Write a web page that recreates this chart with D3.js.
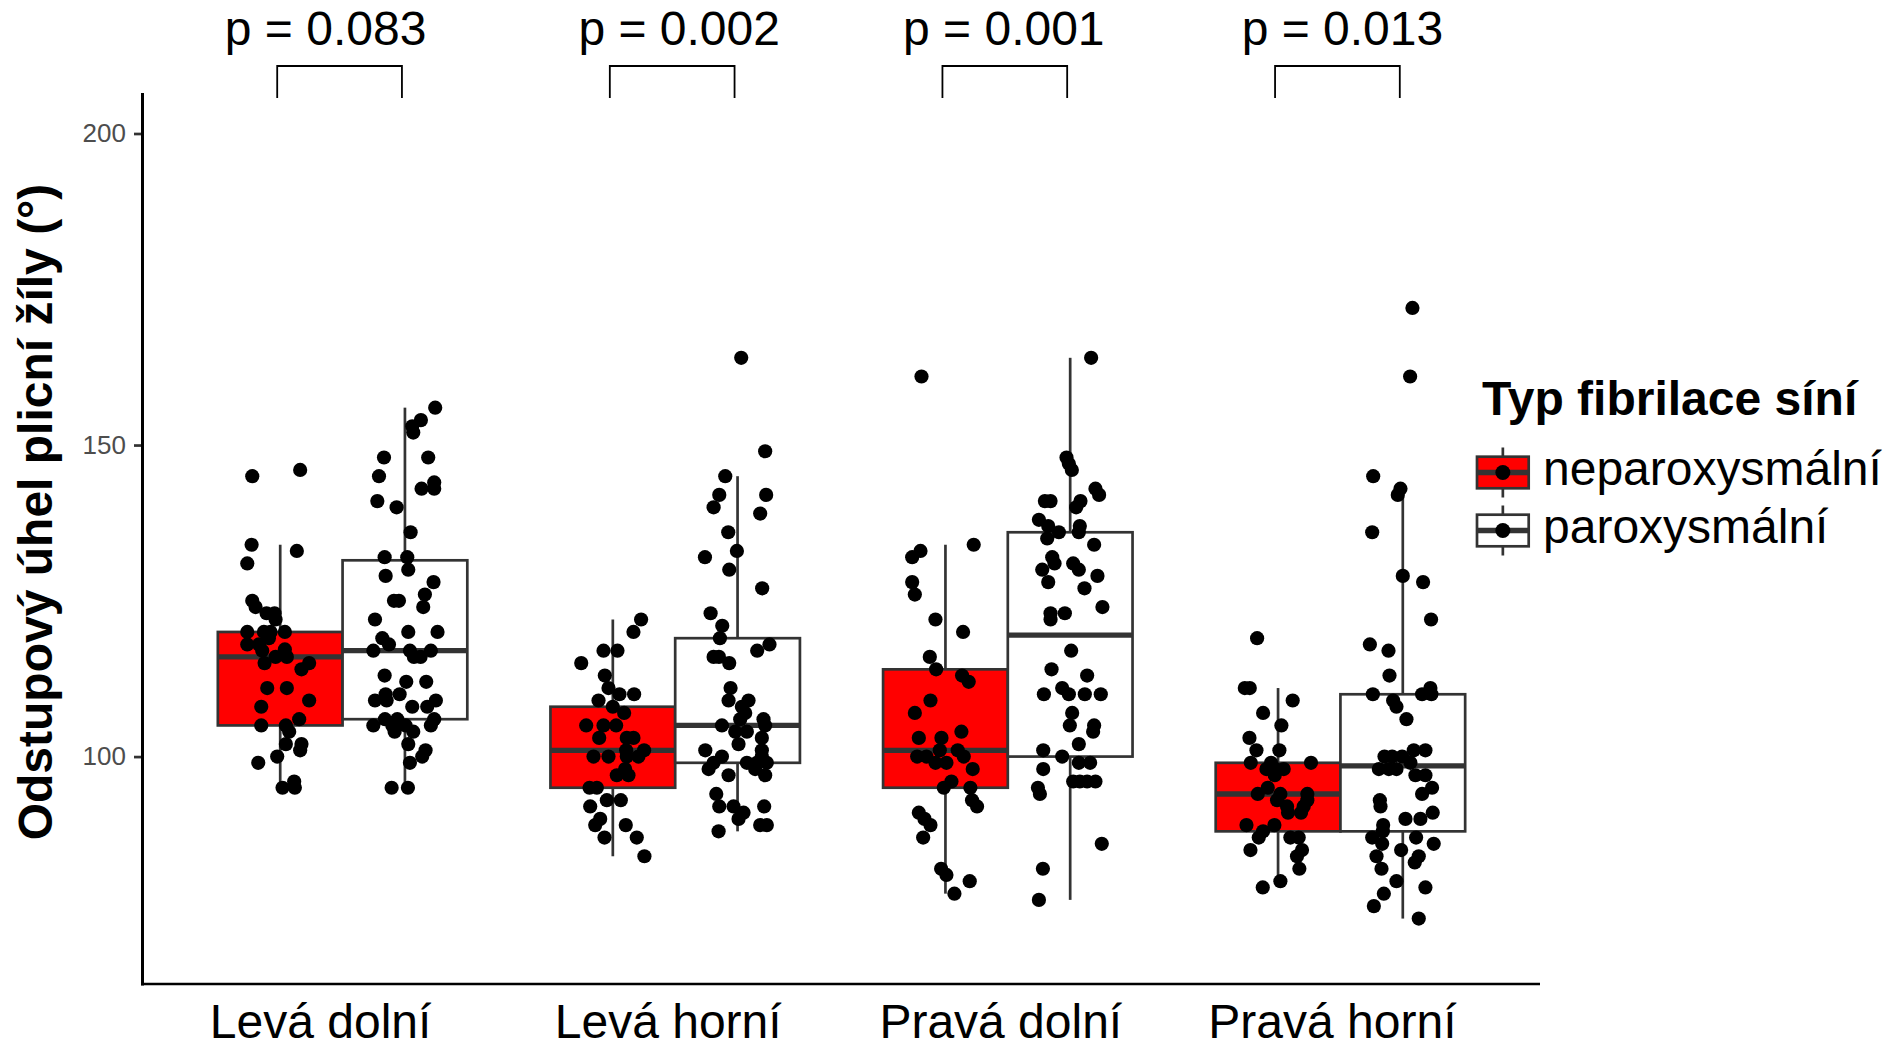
<!DOCTYPE html>
<html>
<head>
<meta charset="utf-8">
<script src="https://cdn.jsdelivr.net/npm/d3@7/dist/d3.min.js"></script>
<style>
  html, body { margin: 0; padding: 0; background: #ffffff; }
  svg { display: block; }
  text { font-family: "Liberation Sans", Arial, Helvetica, sans-serif; }
</style>
</head>
<body>
<svg id="chart" width="1887" height="1048"></svg>
<script>
// ---------------- DATA ----------------
const categories = ["Levá dolní", "Levá horní", "Pravá dolní", "Pravá horní"];
const groupNames = ["neparoxysmální", "paroxysmální"];
const pValues = ["p = 0.083", "p = 0.002", "p = 0.001", "p = 0.013"];
const yTicks = [100, 150, 200];
const yTitle = "Odstupový úhel plicní žíly (°)";
const legendTitle = "Typ fibrilace síní";

// box statistics: [lower whisker, Q1, median, Q3, upper whisker]
const nepStats = [[95, 105, 116, 120, 134], [84, 95, 101, 108, 122], [78, 95, 101, 114, 134], [80, 88, 94, 99, 111]];
const parStats = [[95, 106, 117, 131.5, 156], [88, 99, 105, 119, 145], [77, 100, 119.5, 136, 164], [74, 88, 98.5, 110, 142]];

// jittered observations: [value, horizontal jitter in category units]
const LD_nep = [[145,-0.084],[146,0.060],[134,-0.086],[133,0.050],[131,-0.099],[125,-0.084],[124,-0.074],[123,-0.041],[123,-0.017],[122,-0.014],[120,-0.099],[120,-0.049],[120,-0.029],[120,0.014],[119,-0.034],[118,-0.099],[118,-0.064],[117,-0.054],[117.2,0.014],[116,-0.014],[116,0.020],[115,-0.047],[115,0.087],[114,0.064],[111,-0.039],[111,0.020],[109,0.087],[108,-0.057],[106,0.057],[105,-0.057],[105,0.017],[104,0.027],[102,0.017],[102,0.064],[101,0.060],[100,-0.009],[99,-0.066],[96,0.042],[95,0.007],[95,0.044]];
const LD_par = [[156,0.091],[154,0.048],[153,0.022],[152,0.025],[148,-0.063],[148,0.070],[145,-0.078],[144,0.088],[143,0.050],[143,0.088],[141,-0.083],[140,-0.025],[136,0.017],[132,-0.061],[132,0.007],[130,0.010],[129,-0.058],[128,0.086],[126,0.060],[125,-0.033],[125,-0.018],[124,0.055],[122,-0.090],[120,0.010],[120,0.098],[119,-0.068],[118,-0.048],[117,-0.095],[117,0.015],[117,0.078],[116,0.027],[116,0.047],[113,-0.061],[112,0.004],[112,0.064],[110,-0.058],[110,-0.016],[109,-0.090],[109,-0.055],[109,0.093],[108,0.022],[108,0.067],[106,-0.060],[106,-0.023],[106,0.088],[105,-0.095],[105,-0.038],[105,0.002],[105,0.078],[104,-0.031],[104,0.025],[102,0.010],[101,0.062],[100,0.052],[99,0.015],[95,-0.040],[95,0.009]];
const LH_nep = [[122,0.085],[120,0.062],[117,-0.028],[117,0.014],[115,-0.095],[113,-0.024],[111,-0.013],[110,0.020],[110,0.064],[109,-0.043],[108,0.000],[107,0.034],[105,-0.080],[105,-0.028],[105,0.010],[103,-0.041],[103,0.042],[103,0.062],[101,0.040],[101,0.094],[100,-0.058],[100,-0.013],[100,0.042],[100,0.077],[98,0.037],[97,0.012],[97,0.047],[95,-0.070],[95,-0.048],[93,-0.018],[93,0.024],[92,-0.068],[90,-0.038],[89,-0.053],[89,0.039],[87,-0.025],[87,0.072],[84,0.095]];
const LH_par = [[164,0.011],[149,0.083],[145,-0.037],[142,-0.055],[142,0.086],[140,-0.072],[139,0.068],[136,-0.028],[133,-0.002],[132,-0.098],[130,-0.025],[127,0.074],[123,-0.081],[121,-0.046],[119,-0.053],[118,0.096],[117,0.059],[116,-0.072],[116,-0.056],[115,-0.025],[111,-0.021],[109,-0.027],[109,0.033],[108,0.013],[107,0.023],[106,0.008],[106,0.078],[105,-0.047],[105,0.083],[104,-0.007],[104,0.028],[102,0.003],[103,0.073],[101,0.073],[101,-0.097],[100,-0.047],[100,0.073],[99,-0.072],[99,0.028],[99,0.058],[99,0.088],[98,-0.087],[98,0.053],[97,-0.027],[97,0.083],[94,-0.064],[92,-0.055],[92,-0.012],[92,0.080],[91,0.018],[90,0.003],[89,0.068],[89,0.088],[88,-0.057]];
const PD_nep = [[161,-0.072],[134,0.085],[133,-0.075],[132,-0.100],[128,-0.100],[126,-0.092],[122,-0.030],[120,0.053],[116,-0.047],[114,-0.028],[113,0.050],[112,0.070],[109,-0.045],[107,-0.092],[103,-0.080],[103,-0.012],[104,0.048],[101,-0.017],[100,-0.085],[100,-0.057],[101,0.037],[100,0.055],[99,-0.030],[99,0.003],[98,0.082],[96,0.018],[95,-0.005],[95,0.075],[93,0.080],[92,0.095],[91,-0.080],[90,-0.063],[89,-0.045],[87,-0.067],[82,-0.013],[81,0.003],[80,0.073],[78,0.027]];
const PD_par = [[164,0.063],[148,-0.011],[147,-0.004],[146,0.005],[143,0.076],[142,0.087],[141,-0.076],[141,-0.059],[141,0.031],[140,0.018],[138,-0.094],[137,-0.066],[137,0.029],[136,-0.034],[136,0.026],[135,-0.069],[134,0.072],[132,-0.054],[131,-0.047],[131,0.009],[130,-0.084],[130,0.026],[129,0.082],[128,-0.066],[127,0.043],[124,0.097],[123,-0.059],[123,-0.016],[122,-0.059],[117,0.003],[114,-0.056],[113,0.051],[110,-0.079],[111,-0.024],[110,-0.004],[110,0.044],[110,0.092],[107,0.006],[105,-0.001],[105,0.072],[104,0.069],[102,0.026],[101,-0.081],[100,-0.024],[99,0.026],[99,0.060],[98,-0.081],[96,0.009],[96,0.029],[96,0.051],[96,0.076],[95,-0.097],[94,-0.091],[86,0.095],[82,-0.082],[77,-0.094]];
const PH_nep = [[119,-0.063],[111,-0.100],[111,-0.085],[109,0.044],[107,-0.045],[105,0.010],[103,-0.086],[101,-0.065],[101,0.004],[99,-0.082],[99,-0.021],[99,0.099],[98,-0.035],[98,-0.008],[98,0.017],[97,-0.010],[95,-0.031],[94,-0.061],[94,0.007],[94,0.088],[93,-0.003],[92,0.027],[93,0.088],[92,0.077],[91,0.030],[91,0.069],[89,-0.095],[89,-0.011],[88,-0.045],[87,-0.058],[87,0.037],[87,0.062],[85,-0.083],[85,0.072],[84,0.057],[82,0.064],[80,0.007],[79,-0.046]];
const PH_par = [[172,0.029],[161,0.022],[145,-0.089],[143,-0.007],[142,-0.015],[136,-0.092],[129,0.000],[128,0.061],[122,0.085],[118,-0.099],[117,-0.043],[113,-0.040],[110,-0.090],[110,0.058],[111,0.083],[110,0.086],[109,-0.029],[108,-0.019],[106,0.011],[101,0.033],[101,0.068],[100,-0.055],[100,-0.032],[100,-0.002],[99,0.023],[98,-0.072],[98,-0.042],[98,-0.019],[97,0.038],[97,0.068],[95,0.088],[94,0.058],[93,-0.069],[92,-0.067],[91,0.090],[90,0.008],[90,0.053],[89,-0.059],[88,-0.060],[87,-0.092],[86,-0.062],[87,0.040],[86,0.093],[85,-0.005],[84,-0.079],[84,0.048],[83,0.036],[82,-0.064],[80,-0.019],[79,0.068],[78,-0.057],[76,-0.087],[74,0.048]];

// ---------------- LAYOUT ----------------
const W = 1887, H = 1048;
const panel = { left: 143, right: 1540, top: 93, bottom: 984 };
const FS = 48;
const boxLine = "#333333";
const pLabelNudge = [-17, 4, -4, 2];
const xLabelNudge = [-22, -7, -7, -8];

const groups = [
  { name: groupNames[0], fill: "#FF0000", dodge: -0.1875, stats: nepStats, pts: [LD_nep, LH_nep, PD_nep, PH_nep] },
  { name: groupNames[1], fill: "#FFFFFF", dodge: 0.1875, stats: parStats, pts: [LD_par, LH_par, PD_par, PH_par] }
];

const svg = d3.select("#chart");
svg.append("rect").attr("width", W).attr("height", H).attr("fill", "#ffffff");

const x = d3.scalePoint().domain(categories).range([panel.left, panel.right]).padding(0.6);
const step = x.step();
const y = d3.scaleLinear().domain([63.5, 206.5]).range([panel.bottom, panel.top]);
const boxW = 0.375 * step;

// ---- boxes ----
const gBoxes = svg.append("g");
groups.forEach(g => {
  categories.forEach((c, i) => {
    const [lo, q1, med, q3, hi] = g.stats[i];
    const cx = x(c) + g.dodge * step;
    const bg = gBoxes.append("g");
    bg.append("line").attr("x1", cx).attr("x2", cx).attr("y1", y(hi)).attr("y2", y(q3))
      .attr("stroke", boxLine).attr("stroke-width", 2.7);
    bg.append("line").attr("x1", cx).attr("x2", cx).attr("y1", y(q1)).attr("y2", y(lo))
      .attr("stroke", boxLine).attr("stroke-width", 2.7);
    bg.append("rect").attr("x", cx - boxW / 2).attr("width", boxW)
      .attr("y", y(q3)).attr("height", y(q1) - y(q3))
      .attr("fill", g.fill).attr("stroke", boxLine).attr("stroke-width", 2.7);
    bg.append("line").attr("x1", cx - boxW / 2).attr("x2", cx + boxW / 2)
      .attr("y1", y(med)).attr("y2", y(med))
      .attr("stroke", boxLine).attr("stroke-width", 5.4);
  });
});

// ---- jittered points ----
const gPts = svg.append("g");
groups.forEach(g => {
  categories.forEach((c, i) => {
    const cx = x(c) + g.dodge * step;
    gPts.selectAll(null).data(g.pts[i]).enter().append("circle")
      .attr("cx", d => cx + d[1] * step)
      .attr("cy", d => y(d[0]))
      .attr("r", 7.1)
      .attr("fill", "#000000");
  });
});

// ---- axes ----
const yAxis = d3.axisLeft(y).tickValues(yTicks).tickSize(7).tickPadding(8);
const gy = svg.append("g").attr("transform", `translate(${panel.left - 2},0)`).call(yAxis);
gy.select(".domain").remove();
gy.selectAll(".tick line").attr("stroke", "#333333").attr("stroke-width", 2.7);
gy.selectAll(".tick text").attr("fill", "#4D4D4D").attr("font-size", 26)
  .attr("font-family", "Liberation Sans, Arial, sans-serif");

svg.append("line").attr("x1", panel.left - 0.5).attr("x2", panel.left - 0.5)
  .attr("y1", panel.top).attr("y2", panel.bottom + 1.5)
  .attr("stroke", "#000000").attr("stroke-width", 3);
svg.append("line").attr("x1", panel.left - 2).attr("x2", panel.right)
  .attr("y1", panel.bottom).attr("y2", panel.bottom)
  .attr("stroke", "#000000").attr("stroke-width", 2.7);

// x labels
svg.append("g").selectAll("text").data(categories).enter().append("text")
  .attr("x", (d, i) => x(d) + xLabelNudge[i])
  .attr("y", 1038)
  .attr("text-anchor", "middle")
  .attr("font-size", FS)
  .attr("fill", "#000000")
  .text(d => d);

// y title
svg.append("text")
  .attr("transform", "translate(52,512) rotate(-90)")
  .attr("text-anchor", "middle")
  .attr("font-size", FS)
  .attr("font-weight", "bold")
  .attr("fill", "#000000")
  .text(yTitle);

// ---- significance brackets ----
const gBr = svg.append("g");
categories.forEach((c, i) => {
  const xl = x(c) + groups[0].dodge * step - 3;
  const xr = x(c) + groups[1].dodge * step - 3;
  gBr.append("path")
    .attr("d", `M${xl},98 L${xl},66 L${xr},66 L${xr},98`)
    .attr("fill", "none").attr("stroke", "#000000").attr("stroke-width", 1.8);
  gBr.append("text")
    .attr("x", x(c) + pLabelNudge[i])
    .attr("y", 45)
    .attr("text-anchor", "middle")
    .attr("font-size", FS)
    .attr("fill", "#000000")
    .text(pValues[i]);
});

// ---- legend ----
const gLeg = svg.append("g");
gLeg.append("text").attr("x", 1482).attr("y", 415)
  .attr("font-size", FS).attr("font-weight", "bold").attr("fill", "#000000")
  .text(legendTitle);
const keyCenters = [472.5, 530.5];
groups.forEach((g, i) => {
  const cy = keyCenters[i];
  const kx = 1477, kw = 51.7, kh = 31.6, cxk = kx + kw / 2;
  gLeg.append("line").attr("x1", cxk).attr("x2", cxk).attr("y1", cy - 25).attr("y2", cy + 25)
    .attr("stroke", boxLine).attr("stroke-width", 2.7);
  gLeg.append("rect").attr("x", kx).attr("y", cy - kh / 2).attr("width", kw).attr("height", kh)
    .attr("fill", g.fill).attr("stroke", boxLine).attr("stroke-width", 2.7);
  gLeg.append("line").attr("x1", kx).attr("x2", kx + kw).attr("y1", cy).attr("y2", cy)
    .attr("stroke", boxLine).attr("stroke-width", 5.4);
  gLeg.append("circle").attr("cx", cxk).attr("cy", cy).attr("r", 7.5).attr("fill", "#000000");
  gLeg.append("text").attr("x", 1543).attr("y", cy + 12)
    .attr("font-size", FS).attr("fill", "#000000").text(g.name);
});
</script>
</body>
</html>
